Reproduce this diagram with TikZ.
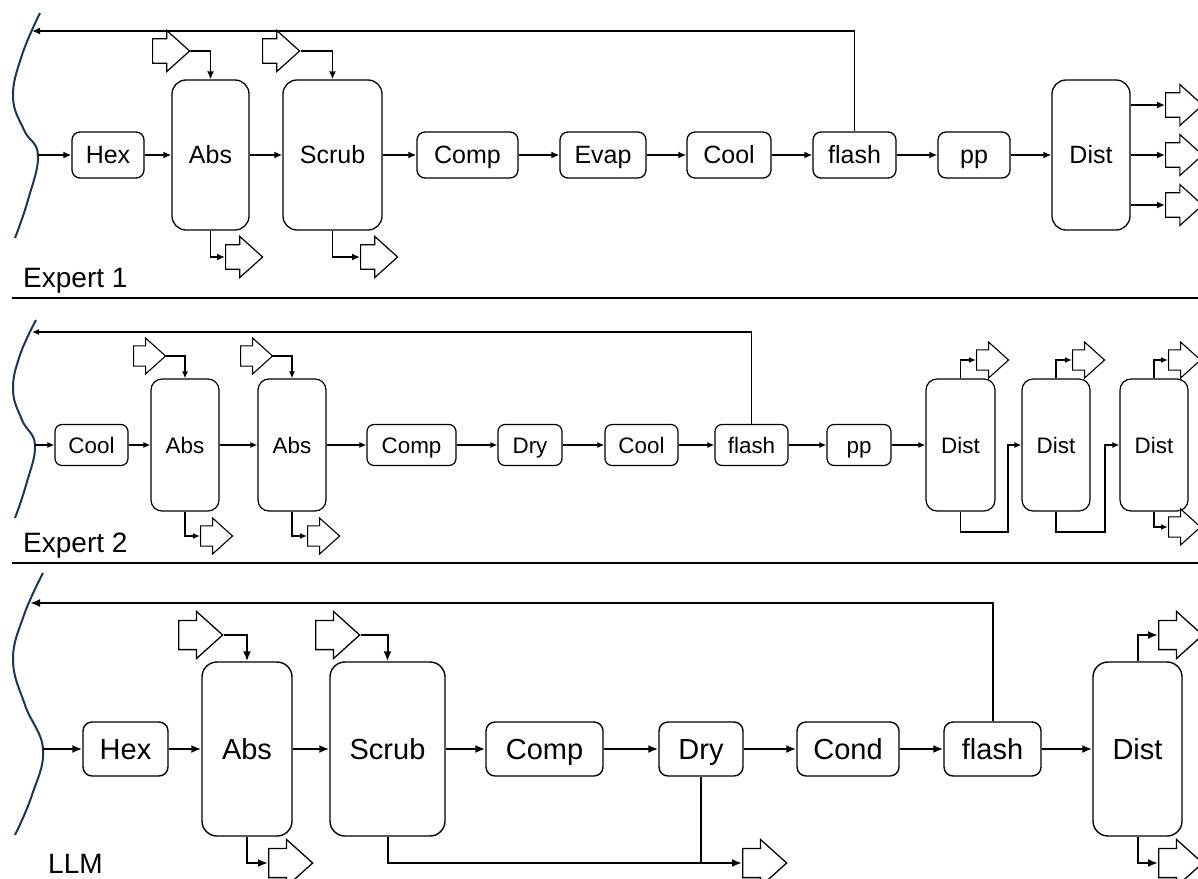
\documentclass[tikz,border=0pt]{standalone}
\usepackage{fontspec}
\setmainfont{Liberation Sans}
\usetikzlibrary{arrows.meta, shapes.arrows}

\begin{document}
\begin{tikzpicture}[x=1pt, y=1pt,
    unit/.style={draw, inner sep=0pt, align=center, text depth=0pt},
    e1box/.style={unit, line width=1.3pt, rounded corners=8pt, minimum height=46, text height=17.9pt, font=\fontsize{25}{25}\selectfont},
    e1col/.style={e1box, rounded corners=14pt, minimum height=150},
    e2box/.style={unit, line width=1.2pt, rounded corners=7pt, minimum height=41, text height=16pt, font=\fontsize{22.4}{22.4}\selectfont},
    e2col/.style={e2box, rounded corners=11pt, minimum height=132},
    llmbox/.style={unit, line width=1.4pt, rounded corners=9pt, minimum height=54, text height=20.8pt, font=\fontsize{29}{29}\selectfont},
    llmcol/.style={llmbox, rounded corners=15pt, minimum height=174},
    big/.style={draw, single arrow, anchor=tail, fill=white, inner sep=0pt, text depth=0pt, single arrow tip angle=84},
    e1big/.style={big, line width=1.2pt, minimum width=41, minimum height=37, text height=20pt},
    e2big/.style={big, line width=1.1pt, minimum width=36, minimum height=32, text height=17pt},
    llmbig/.style={big, line width=1.3pt, minimum width=47, minimum height=44, text height=22pt},
    e1flow/.style={line width=1.8pt, -{Latex[length=8pt, width=7pt]}},
    e2flow/.style={line width=1.5pt, -{Latex[length=7pt, width=6pt]}},
    llmflow/.style={line width=2pt, -{Latex[length=10pt, width=8pt]}},
    wave/.style={draw=wavecol, line width=2pt},
    sep/.style={line width=2.5pt},
    caption/.style={anchor=base west, inner sep=0pt, font=\fontsize{28}{28}\selectfont}]
  \definecolor{wavecol}{HTML}{1C3550}
  \clip (0,0) rectangle (1198,-878);

  % Expert 1
  \draw[wave] plot[smooth, tension=0.7] coordinates {(40,-13) (22,-55) (13,-97) (24,-130) (38,-155) (28,-200) (15,-238)};
  \coordinate (in1) at (38,-155);
  \coordinate (ret1) at (32,-31);
  \node[e1box, minimum width=72] (hex1) at (108,-155) {Hex};
  \node[e1col, minimum width=77] (abs1) at (210.5,-155) {Abs};
  \node[e1col, minimum width=99] (scrub1) at (332.5,-155) {Scrub};
  \node[e1box, minimum width=101] (comp1) at (467.5,-155) {Comp};
  \node[e1box, minimum width=86] (evap1) at (603,-155) {Evap};
  \node[e1box, minimum width=84] (cool1) at (729,-155) {Cool};
  \node[e1box, minimum width=83] (flash1) at (854.5,-155) {flash};
  \node[e1box, minimum width=72] (pp1) at (974,-155) {pp};
  \node[e1col, minimum width=78] (dist1) at (1091,-155) {Dist};
  \node[e1big] (f1a) at (152,-51) {};
  \node[e1big] (f1b) at (262,-51) {};
  \node[e1big] (o1a) at (225,-257) {};
  \node[e1big] (o1b) at (360,-257) {};
  \node[e1big] (o1c) at (1165,-105) {};
  \node[e1big] (o1d) at (1165,-155) {};
  \node[e1big] (o1e) at (1165,-205) {};
  \draw[e1flow] (in1) -- (hex1);
  \draw[e1flow] (hex1) -- (abs1);
  \draw[e1flow] (abs1) -- (scrub1);
  \draw[e1flow] (scrub1) -- (comp1);
  \draw[e1flow] (comp1) -- (evap1);
  \draw[e1flow] (evap1) -- (cool1);
  \draw[e1flow] (cool1) -- (flash1);
  \draw[e1flow] (flash1) -- (pp1);
  \draw[e1flow] (pp1) -- (dist1);
  \draw[e1flow] (flash1.north) |- (ret1);
  \draw[e1flow] (f1a.tip) -| (abs1.north);
  \draw[e1flow] (f1b.tip) -| (scrub1.north);
  \draw[e1flow] (abs1.south) |- (o1a.tail);
  \draw[e1flow] (scrub1.south) |- (o1b.tail);
  \draw[e1flow] (dist1.east |- o1c.tail) -- (o1c.tail);
  \draw[e1flow] (dist1.east |- o1d.tail) -- (o1d.tail);
  \draw[e1flow] (dist1.east |- o1e.tail) -- (o1e.tail);
  \node[caption] (lab1) at (23,-287) {Expert 1};
  \draw[sep] (12,-298) -- (1198,-298);

  % Expert 2
  \draw[wave] plot[smooth, tension=0.7] coordinates {(36,-320) (20,-355) (13,-390) (22,-420) (35,-445) (26,-485) (15,-518)};
  \coordinate (in2) at (35,-445);
  \coordinate (ret2) at (32,-332);
  \node[e2box, minimum width=73] (cool2a) at (91.5,-445) {Cool};
  \node[e2col, minimum width=68] (abs2a) at (185,-445) {Abs};
  \node[e2col, minimum width=68] (abs2b) at (292,-445) {Abs};
  \node[e2box, minimum width=89] (comp2) at (411.5,-445) {Comp};
  \node[e2box, minimum width=64] (dry2) at (530,-445) {Dry};
  \node[e2box, minimum width=73] (cool2b) at (641.5,-445) {Cool};
  \node[e2box, minimum width=73] (flash2) at (751.5,-445) {flash};
  \node[e2box, minimum width=64] (pp2) at (859,-445) {pp};
  \node[e2col, minimum width=69] (dist2a) at (960.5,-445) {Dist};
  \node[e2col, minimum width=68] (dist2b) at (1056,-445) {Dist};
  \node[e2col, minimum width=68] (dist2c) at (1154,-445) {Dist};
  \node[e2big] (f2a) at (133,-356) {};
  \node[e2big] (f2b) at (240,-356) {};
  \node[e2big] (o2a) at (200,-536) {};
  \node[e2big] (o2b) at (307,-536) {};
  \node[e2big] (o2c) at (976,-360) {};
  \node[e2big] (o2d) at (1072,-360) {};
  \node[e2big] (o2e) at (1168,-360) {};
  \node[e2big] (o2f) at (1168,-527) {};
  \coordinate (j2a) at (1008,-532);
  \coordinate (j2b) at (1105,-532);
  \draw[e2flow] (in2) -- (cool2a);
  \draw[e2flow] (cool2a) -- (abs2a);
  \draw[e2flow] (abs2a) -- (abs2b);
  \draw[e2flow] (abs2b) -- (comp2);
  \draw[e2flow] (comp2) -- (dry2);
  \draw[e2flow] (dry2) -- (cool2b);
  \draw[e2flow] (cool2b) -- (flash2);
  \draw[e2flow] (flash2) -- (pp2);
  \draw[e2flow] (pp2) -- (dist2a);
  \draw[e2flow] (flash2.north) |- (ret2);
  \draw[e2flow] (f2a.tip) -| (abs2a.north);
  \draw[e2flow] (f2b.tip) -| (abs2b.north);
  \draw[e2flow] (abs2a.south) |- (o2a.tail);
  \draw[e2flow] (abs2b.south) |- (o2b.tail);
  \draw[e2flow] (dist2a.north) |- (o2c.tail);
  \draw[e2flow] (dist2b.north) |- (o2d.tail);
  \draw[e2flow] (dist2c.north) |- (o2e.tail);
  \draw[e2flow] (dist2c.south) |- (o2f.tail);
  \draw[e2flow] (dist2a.south) |- (j2a) |- (dist2b.west);
  \draw[e2flow] (dist2b.south) |- (j2b) |- (dist2c.west);
  \node[caption] (lab2) at (23,-552) {Expert 2};
  \draw[sep] (12,-563) -- (1198,-563);

  % LLM
  \draw[wave] plot[smooth, tension=0.7] coordinates {(43,-573) (24,-615) (13,-660) (25,-705) (43,-749) (32,-795) (15,-835)};
  \coordinate (in3) at (43,-749);
  \coordinate (ret3) at (30,-603);
  \node[llmbox, minimum width=85] (hex3) at (125.5,-749) {Hex};
  \node[llmcol, minimum width=90] (abs3) at (247,-749) {Abs};
  \node[llmcol, minimum width=115] (scrub3) at (387.5,-749) {Scrub};
  \node[llmbox, minimum width=117] (comp3) at (544.5,-749) {Comp};
  \node[llmbox, minimum width=84] (dry3) at (701,-749) {Dry};
  \node[llmbox, minimum width=102] (cond3) at (848,-749) {Cond};
  \node[llmbox, minimum width=97] (flash3) at (992.5,-749) {flash};
  \node[llmcol, minimum width=89] (dist3) at (1137.5,-749) {Dist};
  \node[llmbig] (f3a) at (178,-635) {};
  \node[llmbig] (f3b) at (315,-635) {};
  \node[llmbig] (o3a) at (268,-863) {};
  \node[llmbig] (o3b) at (742,-863) {};
  \node[llmbig] (o3c) at (1158,-635) {};
  \node[llmbig] (o3d) at (1158,-863) {};
  \draw[llmflow] (in3) -- (hex3);
  \draw[llmflow] (hex3) -- (abs3);
  \draw[llmflow] (abs3) -- (scrub3);
  \draw[llmflow] (scrub3) -- (comp3);
  \draw[llmflow] (comp3) -- (dry3);
  \draw[llmflow] (dry3) -- (cond3);
  \draw[llmflow] (cond3) -- (flash3);
  \draw[llmflow] (flash3) -- (dist3);
  \draw[llmflow] (flash3.north) |- (ret3);
  \draw[llmflow] (f3a.tip) -| (abs3.north);
  \draw[llmflow] (f3b.tip) -| (scrub3.north);
  \draw[llmflow] (abs3.south) |- (o3a.tail);
  \draw[llmflow] (scrub3.south) |- (o3b.tail);
  \draw[line width=2pt] (dry3.south) -- (dry3.south |- o3b.tail);
  \draw[llmflow] (dist3.north) |- (o3c.tail);
  \draw[llmflow] (dist3.south) |- (o3d.tail);
  \node[caption] (lab3) at (48,-873) {LLM};
\end{tikzpicture}
\end{document}
